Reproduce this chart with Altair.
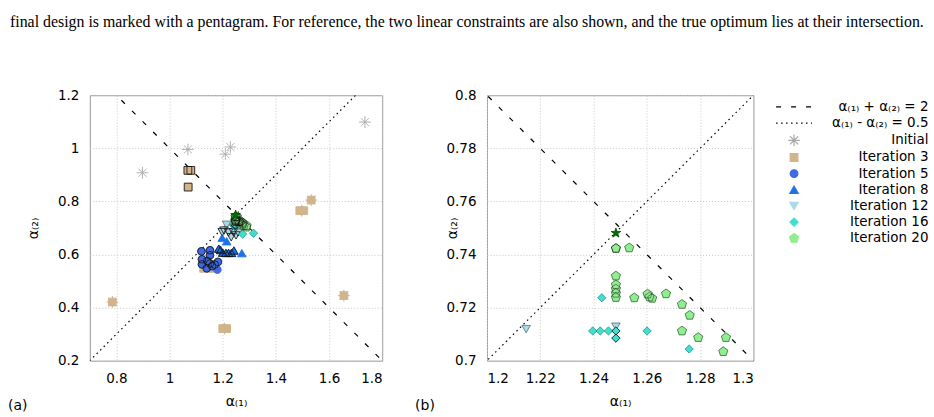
import altair as alt
import pandas as pd

CAPTION = ("final design is marked with a pentagram. For reference, the two linear constraints "
           "are also shown, and the true optimum lies at their intersection.")

SUM_LABEL = "α₍₁₎ + α₍₂₎ = 2"
DIFF_LABEL = "α₍₁₎ - α₍₂₎ = 0.5"
ITER_NAMES = ["Initial", "Iteration 3", "Iteration 5", "Iteration 8",
              "Iteration 12", "Iteration 16", "Iteration 20"]
LEGEND_NAMES = [SUM_LABEL, DIFF_LABEL] + ITER_NAMES

# ---- data (x = alpha1, y = alpha2, edge = outline strength) ----
initial_x = [0.898, 1.069, 1.229, 1.210, 1.735, 0.785, 1.533, 1.497, 1.656, 1.207]
initial_y = [0.908, 0.996, 1.005, 0.978, 1.099, 0.421, 0.805, 0.765, 0.445, 0.321]
initial_e = [0, 0, 0, 0, 0, 0, 0, 0, 0, 0]

it3_x = [1.069, 1.080, 1.070, 0.785, 1.533, 1.490, 1.505, 1.656, 1.200, 1.215, 1.128, 1.145, 1.162]
it3_y = [0.917, 0.917, 0.854, 0.421, 0.805, 0.765, 0.765, 0.445, 0.321, 0.321, 0.548, 0.548, 0.548]
it3_e = [1, 1, 1, 0, 0, 0, 0, 0, 0, 0, 0, 0, 0]

it5_x = [1.120, 1.152, 1.152, 1.122, 1.122, 1.152, 1.182, 1.160, 1.142, 1.140, 1.180, 1.170]
it5_y = [0.612, 0.616, 0.597, 0.582, 0.563, 0.566, 0.572, 0.556, 0.575, 0.548, 0.543, 0.562]
it5_e = [1, 1, 1, 1, 1, 1, 1, 1, 1, 1, 0, 1]

it8_x = [1.198, 1.215, 1.185, 1.192, 1.200, 1.212, 1.222, 1.233, 1.242, 1.272]
it8_y = [0.663, 0.650, 0.622, 0.617, 0.607, 0.606, 0.606, 0.606, 0.615, 0.605]
it8_e = [0, 0, 1, 1, 1, 1, 1, 1, 1, 0]

it12_x = [1.2147, 1.2484, 1.198, 1.222, 1.240, 1.250, 1.232, 1.258, 1.205]
it12_y = [0.7119, 0.7128, 0.684, 0.683, 0.684, 0.672, 0.665, 0.683, 0.690]
it12_e = [0.5, 0.5, 1, 1, 1, 1, 1, 1, 1]

it16_x = [1.2431, 1.2397, 1.2425, 1.2456, 1.2484, 1.2484, 1.2601, 1.2759, 1.275, 1.316]
it16_y = [0.7237, 0.7112, 0.7112, 0.7112, 0.7112, 0.7085, 0.7112, 0.7044, 0.677, 0.680]
it16_e = [0.35, 0.35, 0.35, 0.35, 1, 1, 0.35, 0.35, 0.35, 0.35]

it20_x = [1.2484, 1.2534, 1.2484, 1.2484, 1.2484, 1.2484, 1.2484, 1.2553, 1.2603,
          1.2610, 1.2620, 1.2672, 1.2732, 1.2761, 1.2732, 1.2793, 1.2897, 1.2887]
it20_y = [0.7423, 0.7425, 0.7319, 0.7286, 0.7270, 0.7254, 0.7238, 0.7237, 0.7251,
          0.7240, 0.7235, 0.7252, 0.7212, 0.7171, 0.7112, 0.7087, 0.7087, 0.7034]
it20_e = [1, 0.6, 0.6, 0.6, 0.6, 0.6, 0.6, 0.6, 0.6,
          0.6, 0.6, 0.6, 0.6, 0.6, 0.6, 0.6, 0.6, 0.6]

final_x = [1.2484]
final_y = [0.7481]

# constraint lines (end points)
line_x = [0.5, 2.0]
sum_y = [1.5, 0.0]
diff_y = [0.0, 1.5]

# ---- styles ----
ASTERISK = "M-1,0L1,0M0,-1L0,1M-0.7,-0.7L0.7,0.7M-0.7,0.7L0.7,-0.7"
PENTAGON = "M0,-1L0.951,-0.309L0.588,0.809L-0.588,0.809L-0.951,-0.309Z"
STAR = ("M0,-1L0.225,-0.309L0.951,-0.309L0.363,0.118L0.588,0.809L0,0.382"
        "L-0.588,0.809L-0.363,0.118L-0.951,-0.309L-0.225,-0.309Z")
LEGEND_LINE = "M-6,0L6,0"

fill_colors = ["black", "black", "#A9A9A9", "#D2B48C", "#4169E1", "#1C73E6",
               "#ADD8E6", "#40E0D0", "#90EE90"]
shapes = [LEGEND_LINE, LEGEND_LINE, ASTERISK, "square", "circle", "triangle-up",
          "triangle-down", "diamond", PENTAGON]
sizes = [36, 36, 135, 60, 58, 72, 72, 68, 92]
dashes = [[5, 10], [1.5, 3.5], [1, 0], [1, 0], [1, 0], [1, 0], [1, 0], [1, 0], [1, 0]]

shape_of = dict(zip(LEGEND_NAMES, shapes))
size_of = dict(zip(LEGEND_NAMES, sizes))

series_data = [
    ("Initial", initial_x, initial_y, initial_e),
    ("Iteration 3", it3_x, it3_y, it3_e),
    ("Iteration 5", it5_x, it5_y, it5_e),
    ("Iteration 8", it8_x, it8_y, it8_e),
    ("Iteration 12", it12_x, it12_y, it12_e),
    ("Iteration 16", it16_x, it16_y, it16_e),
    ("Iteration 20", it20_x, it20_y, it20_e),
]
rows = []
for name, xs, ys, es in series_data:
    for xv, yv, ev in zip(xs, ys, es):
        rows.append({"x": xv, "y": yv, "series": name, "edge": ev})
points = pd.DataFrame(rows)
final_df = pd.DataFrame({"x": final_x, "y": final_y})
lines_df = pd.DataFrame({"x": line_x + line_x, "y": sum_y + diff_y,
                         "c": ["sum", "sum", "diff", "diff"]})

legend = alt.Legend(title=None, orient="none", legendX=699, legendY=5,
                    labelAlign="right", labelOffset=128, labelLimit=400,
                    labelFont="DejaVu Sans", labelFontSize=13.5, labelColor="black",
                    rowPadding=1.2, padding=0, symbolStrokeWidth=1.2)


def sc(rng, kind=None):
    if kind:
        return alt.Scale(type=kind, domain=LEGEND_NAMES, range=rng)
    return alt.Scale(domain=LEGEND_NAMES, range=rng)


def panel(xdom, ydom, xticks, yticks, w, h, ytitle_x, tag, tag_x, caption=False):
    xenc = alt.X("x:Q", scale=alt.Scale(domain=xdom, nice=False, zero=False),
                 axis=alt.Axis(values=xticks, format="~g", title="α₍₁₎",
                               titleY=41, titleBaseline="middle"))
    yenc = alt.Y("y:Q", scale=alt.Scale(domain=ydom, nice=False, zero=False),
                 axis=alt.Axis(values=yticks, format="~g", title="α₍₂₎",
                               titleX=ytitle_x, titleBaseline="middle"))
    layers = []
    base_lines = alt.Chart(lines_df)
    layers.append(base_lines.transform_filter(alt.datum.c == "sum")
                  .mark_line(clip=True, color="black", strokeWidth=1.2, strokeDash=[5, 10])
                  .encode(x=xenc, y=yenc))
    layers.append(base_lines.transform_filter(alt.datum.c == "diff")
                  .mark_line(clip=True, color="black", strokeWidth=1.2, strokeDash=[1.5, 3.5])
                  .encode(x=xenc, y=yenc))
    base = alt.Chart(points)
    for name in ITER_NAMES:
        layers.append(
            base.transform_filter(alt.datum.series == name)
            .mark_point(filled=True, clip=True, opacity=1, strokeWidth=1)
            .encode(x=xenc, y=yenc,
                    color=alt.Color("series:N", scale=sc(fill_colors), legend=legend),
                    stroke=alt.Stroke("series:N", scale=sc(fill_colors), legend=legend),
                    shape=alt.Shape("series:N", scale=sc(shapes), legend=legend),
                    size=alt.Size("series:N", scale=sc(sizes, "ordinal"), legend=legend),
                    strokeDash=alt.StrokeDash("series:N", scale=sc(dashes), legend=legend))
        )
        if name != "Initial":
            layers.append(
                base.transform_filter((alt.datum.series == name) & (alt.datum.edge > 0))
                .mark_point(filled=False, clip=True, opacity=1, strokeWidth=0.8, color="#111111")
                .encode(x=xenc, y=yenc,
                        shape=alt.value(shape_of[name]),
                        size=alt.value(size_of[name]),
                        strokeOpacity=alt.StrokeOpacity("edge:Q", scale=None))
            )
    layers.append(
        alt.Chart(final_df).mark_point(filled=True, clip=True, opacity=1, fill="#007000",
                                       stroke="#004a00", strokeWidth=0.8, shape=STAR, size=105)
        .encode(x=xenc, y=yenc)
    )
    layers.append(
        alt.Chart(pd.DataFrame({"t": [tag]}))
        .mark_text(align="left", baseline="middle", font="DejaVu Sans", fontSize=14, color="black")
        .encode(x=alt.value(tag_x), y=alt.value(311), text="t:N")
    )
    if caption:
        layers.append(
            alt.Chart(pd.DataFrame({"t": [CAPTION]}))
            .mark_text(align="left", baseline="middle", font="Liberation Serif",
                       fontSize=15.9, color="black")
            .encode(x=alt.value(-80), y=alt.value(-73), text="t:N")
        )
    return alt.layer(*layers).properties(width=w, height=h)


pa = panel([0.7, 1.8], [0.2, 1.2], [0.8, 1.0, 1.2, 1.4, 1.6, 1.8], [0.2, 0.4, 0.6, 0.8, 1.0, 1.2],
           293, 266, -56, "(a)", -82, caption=True)
pb = panel([1.2, 1.3], [0.7, 0.8], [1.2, 1.22, 1.24, 1.26, 1.28, 1.3],
           [0.7, 0.72, 0.74, 0.76, 0.78, 0.8], 267, 266, -35, "(b)", -72)

chart = (
    alt.hconcat(pa, pb, spacing=105, bounds="flush")
    .resolve_scale(x="independent", y="independent")
    .properties(padding={"left": 7, "top": 13, "right": 5, "bottom": 5})
    .configure(background="white")
    .configure_view(stroke="#999999", strokeWidth=1)
    .configure_axis(domain=False, ticks=False, tickSize=0, labelPadding=11,
                    labelFont="DejaVu Sans", labelFontSize=13.5, labelColor="black",
                    titleFont="DejaVu Sans", titleFontSize=14, titleFontWeight="normal",
                    titleColor="black", grid=True, gridColor="#C8C8C8", gridDash=[1, 2],
                    gridWidth=1)
)

chart.save("out.html", embed_options={"renderer": "svg", "actions": False})
